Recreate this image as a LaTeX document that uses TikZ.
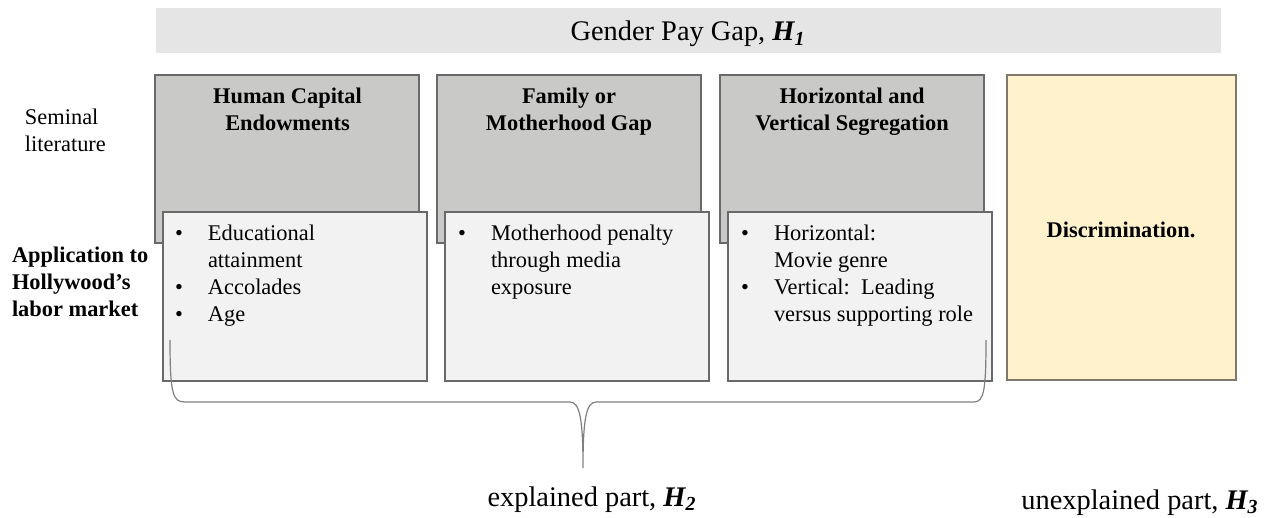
\documentclass[tikz,border=0pt]{standalone}
\usepackage{fontspec}
\setmainfont{Liberation Serif}
\usepackage{tikz}
\usetikzlibrary{positioning,calc}
\definecolor{bargray}{HTML}{E6E5E6}
\definecolor{litgray}{HTML}{C9CAC8}
\definecolor{appgray}{HTML}{F2F2F2}
\definecolor{edgegray}{HTML}{696969}
\definecolor{discfill}{HTML}{FFF2CC}
\definecolor{discedge}{HTML}{7F786B}
\definecolor{bracegray}{HTML}{7F7F7F}

\begin{document}
\begin{tikzpicture}[x=0.5pt,y=-0.5pt,
  every node/.style={inner sep=0pt,outer sep=0pt,font=\fontsize{11.2}{13.5}\selectfont},
  litbox/.style={draw=edgegray,line width=1.3pt,fill=litgray,anchor=north west,minimum width=132pt,minimum height=84pt},
  appbox/.style={draw=edgegray,line width=1.3pt,fill=appgray,anchor=north west,minimum width=132pt,minimum height=84.5pt},
  head/.style={anchor=north,align=center,font=\fontsize{11.2}{13.5}\selectfont\bfseries},
  items/.style={anchor=north west},
  part/.style={anchor=base,font=\fontsize{14.2}{17}\selectfont}]
\useasboundingbox (0,0) rectangle (1279,518);

\node[fill=bargray,anchor=north west,minimum width=532.5pt,minimum height=22.5pt] (bar) at (156,8) {};
\node[part] (title) at (688,41) {Gender Pay Gap, \textbf{\textit{H\textsubscript{1}}}};

\node[anchor=west,align=left] (sem) at (25,130) {Seminal\\literature};
\node[anchor=west,align=left,font=\fontsize{11.2}{13.5}\selectfont\bfseries] (app) at (12,282) {Application to\\Hollywood's\\labor market};

\node[litbox] (hce) at (155,75) {};
\node[litbox] (fam) at (437,75) {};
\node[litbox] (seg) at (720,75) {};
\node[head] (hcehead) at (287.5,88) {Human Capital\\Endowments};
\node[head] (famhead) at (569,88) {Family or\\Motherhood Gap};
\node[head] (seghead) at (852,88) {Horizontal and\\Vertical Segregation};

\node[appbox] (hceapp) at (163,212) {};
\node[appbox] (famapp) at (445,212) {};
\node[appbox] (segapp) at (728,212) {};
\node[items] (hceit) at (175,222) {\begin{tabular}{@{}p{16.5pt}@{}l@{}}
\textbullet & Educational\\ & attainment\\
\textbullet & Accolades\\
\textbullet & Age
\end{tabular}};
\node[items] (famit) at (458,222) {\begin{tabular}{@{}p{16.5pt}@{}l@{}}
\textbullet & Motherhood penalty\\ & through media\\ & exposure
\end{tabular}};
\node[items] (segit) at (741,222) {\begin{tabular}{@{}p{16.5pt}@{}l@{}}
\textbullet & Horizontal:\\ & Movie genre\\
\textbullet & Vertical:\ \ Leading\\ & versus supporting role
\end{tabular}};

\node[draw=discedge,line width=1.3pt,fill=discfill,anchor=north west,minimum width=114.5pt,minimum height=152.5pt] (disc) at (1007,75) {};
\node[font=\fontsize{11.2}{13.5}\selectfont\bfseries] (disctext) at (1121,230) {Discrimination.};

\node[part] (expl) at (592,506) {explained part, \textbf{\textit{H\textsubscript{2}}}};
\node[part] (unexpl) at (1140,509) {unexplained part, \textbf{\textit{H\textsubscript{3}}}};

\coordinate (bl) at ($(hceapp.south west)+(7,-41)$);
\coordinate (br) at ($(segapp.south east)+(-6,-41)$);
\coordinate (tip) at ($(expl.base)+(-9,-38)$);
\draw[bracegray,line width=0.6pt] (bl) .. controls ($(bl)+(0,55)$) and ($(bl)+(3,62)$) .. ($(bl)+(15,62)$)
  -- ($(tip)+(-13,-66)$) .. controls ($(tip)+(-3,-66)$) and ($(tip)+(0,-48)$) .. (tip)
  .. controls ($(tip)+(0,-48)$) and ($(tip)+(3,-66)$) .. ($(tip)+(13,-66)$)
  -- ($(br)+(-12,62)$) .. controls ($(br)+(-2,62)$) and ($(br)+(0,50)$) .. (br);
\end{tikzpicture}
\end{document}
